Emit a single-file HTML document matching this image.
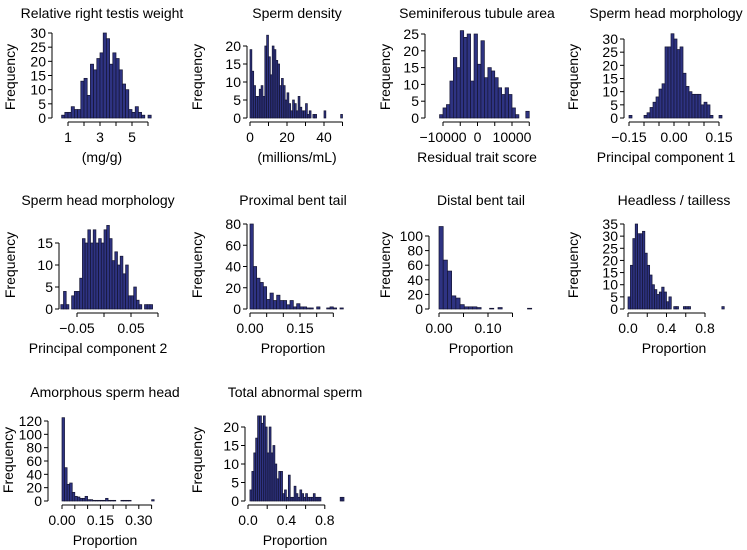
<!DOCTYPE html>
<html><head><meta charset="utf-8">
<style>
html,body{margin:0;padding:0;background:#fff;}
svg{display:block;font-family:"Liberation Sans",Arial,sans-serif;}
</style></head>
<body>
<svg id="fig" width="747" height="550" viewBox="0 0 747 550" xmlns="http://www.w3.org/2000/svg"></svg>
<script>
// ---- data arrays ----
const counts1 = [1,2,2,4,3,3,13,14,8,19,17,21,23,30,28,19,23,21,17,12,10,3,2,4,2,1,0,1];
const counts2 = [19,13,9,6,6,8,9,6,20,23,17,12,20,19,16,15,9,11,9,5,7,4,2,5,4,2,6,3,2,2,4,1,2,0,1,1,0,0,0,0,2,0,0,0,0,0,0,0,0,1];
const counts3 = [1,3,4,11,18,15,26,24,25,11,25,16,23,12,15,14,12,9,7,9,7,3,1,0,0,2];
const counts4 = [1,0,0,0,0,1,2,4,6,8,11,13,27,27,32,30,26,27,17,12,10,9,9,9,5,6,5,1,0,0,1];
const counts5 = [1,4,1,0,3,4,4,7,16,15,18,15,18,15,16,15,18,19,16,11,13,10,12,8,10,3,3,5,2,1,0,1,1,1];
const counts6 = [80,40,29,25,21,9,15,8,13,8,8,4,8,2,5,2,2,1,1,0,2,0,0,1,2,1,0,1];
const counts7 = [113,67,52,18,15,6,3,3,3,2,0,0,1,0,2,0,0,0,0,0,0,1];
const counts8 = [5,18,29,35,31,31,32,23,18,14,10,8,6,7,9,7,3,5,0,1,1,0,0,1,1,1,0,0,0,0,0,0,0,0,0,0,0,0,0,1];
const counts9 = [125,50,25,27,13,7,6,4,4,7,2,2,1,1,1,1,1,4,1,1,1,0,0,1,1,1,1,0,0,0,0,0,0,0,0,2];
const counts10 = [3,8,13,17,23,23,21,23,20,13,20,13,15,10,6,8,8,2,3,1,7,1,1,4,2,1,3,2,1,2,1,1,1,2,1,1,1,0,0,0,0,0,0,0,0,0,0,1,1];
const binStarts = [0.6,0,-11000,-0.15,-0.08,0,0,0,0,0.02];
const binWidths = [0.2,1,1000,0.01,0.005,0.01,0.0086,0.025,0.01,0.02];
const titles = ["Relative right testis weight","Sperm density","Seminiferous tubule area","Sperm head morphology","Sperm head morphology","Proximal bent tail","Distal bent tail","Headless / tailless","Amorphous sperm head","Total abnormal sperm"];
const xLabels = ["(mg/g)","(millions/mL)","Residual trait score","Principal component 1","Principal component 2","Proportion","Proportion","Proportion","Proportion","Proportion"];
const xTicks = [[1,2,3,4,5,6],[0,10,20,30,40,50],[-10000,-5000,0,5000,10000,15000],[-0.15,-0.1,-0.05,0,0.05,0.1,0.15],[-0.05,0,0.05,0.1],[0,0.05,0.1,0.15,0.2,0.25],[0,0.05,0.1,0.15],[0,0.2,0.4,0.6,0.8],[0,0.05,0.1,0.15,0.2,0.25,0.3,0.35],[0,0.2,0.4,0.6,0.8]];
const xTickLabels = [["1","","3","","5",""],["0","","20","","40",""],["\u221210000","","0","","10000",""],["\u22120.15","","","0.00","","","0.15"],["\u22120.05","","0.05",""],["0.00","","","0.15","",""],["0.00","","0.10",""],["0.0","","0.4","","0.8"],["0.00","","","0.15","","","0.30",""],["0.0","","0.4","","0.8"]];
const yTicks = [[0,5,10,15,20,25,30],[0,5,10,15,20],[0,5,10,15,20,25],[0,5,10,15,20,25,30],[0,5,10,15],[0,20,40,60,80],[0,20,40,60,80,100],[0,5,10,15,20,25,30,35],[0,20,40,60,80,100,120],[0,5,10,15,20]];
const allCounts = [counts1,counts2,counts3,counts4,counts5,counts6,counts7,counts8,counts9,counts10];

// ---- layout (pixel geometry) ----
const layout = [
 {x0:68, v0:1, k:16, zy:118, cy:85/30, ax:52, tc:102, fx:10},
 {x0:250, v0:0, k:1.85, zy:118, cy:72/20, ax:247, tc:297, fx:197},
 {x0:477.5, v0:0, k:0.00345, zy:118, cy:84/25, ax:425, tc:477, fx:385},
 {x0:674, v0:0, k:300, zy:118, cy:79/30, ax:624, tc:666, fx:573},
 {x0:104, v0:0, k:540, zy:309, cy:66/15, ax:59, tc:98, fx:10},
 {x0:250, v0:0, k:333.3, zy:309, cy:85/80, ax:247, tc:293, fx:197},
 {x0:439, v0:0, k:490, zy:309, cy:73/100, ax:429, tc:481, fx:385},
 {x0:628, v0:0, k:96.25, zy:309, cy:85/35, ax:624, tc:674, fx:573},
 {x0:62, v0:0, k:256, zy:501, cy:80/120, ax:48, tc:105, fx:8},
 {x0:248, v0:0, k:96, zy:501, cy:74/20, ax:245, tc:295, fx:197}
];
const titleY = {118:18, 309:205, 501:397};
const freqY = {118:77, 309:265, 501:460};
const FS = 14;

const NS = "http://www.w3.org/2000/svg";
const svg = document.getElementById('fig');
function mk(tag, attrs, parent){
  const e = document.createElementNS(NS, tag);
  for (const a in attrs) e.setAttribute(a, attrs[a]);
  (parent||svg).appendChild(e);
  return e;
}

layout.forEach((L, i) => {
  const g = mk('g', {});
  
  
  const xs = v => L.x0 + (v - L.v0) * L.k;
  const ys = c => L.zy - c * L.cy;
  allCounts[i].forEach((c, j) => {
    if (c <= 0) return;
    const a = xs(binStarts[i] + j*binWidths[i]);
    const b = xs(binStarts[i] + (j+1)*binWidths[i]);
    const r = mk('rect', {x:a, y:ys(c), width:Math.max(b-a,0.5), height:L.zy-ys(c), fill:'#2e3382', stroke:'#141432', 'stroke-width':0.7}, g);
    
    
  });
  const yt = yTicks[i];
  const ya = mk('line', {x1:L.ax, x2:L.ax, y1:ys(yt[0]), y2:ys(yt[yt.length-1]), stroke:'#000', 'stroke-width':1}, g);
  
  
  yt.forEach(t => {
    mk('line', {x1:L.ax-4, x2:L.ax, y1:ys(t), y2:ys(t), stroke:'#000', 'stroke-width':1}, g);
    const tx = mk('text', {x:L.ax-6, y:ys(t)+5, 'text-anchor':'end', 'font-size':FS, fill:'#000'}, g);
    tx.textContent = String(t);
    
    
  });
  const xt = xTicks[i];
  const axY = L.zy + 4;
  const xa = mk('line', {x1:xs(xt[0]), x2:xs(xt[xt.length-1]), y1:axY, y2:axY, stroke:'#000', 'stroke-width':1}, g);
  
  
  xt.forEach((t, j) => {
    mk('line', {x1:xs(t), x2:xs(t), y1:axY, y2:axY+4, stroke:'#000', 'stroke-width':1}, g);
    const lab = xTickLabels[i][j];
    if (lab) {
      const tx = mk('text', {x:xs(t), y:L.zy+24, 'text-anchor':'middle', 'font-size':FS, fill:'#000'}, g);
      tx.textContent = lab;
      
      
    }
  });
  const ti = mk('text', {x:L.tc, y:titleY[L.zy], 'text-anchor':'middle', 'font-size':FS, fill:'#000'}, g);
  ti.textContent = titles[i];
  
  
  const xl = mk('text', {x:L.tc, y:L.zy+44, 'text-anchor':'middle', 'font-size':FS, fill:'#000'}, g);
  xl.textContent = xLabels[i];
  
  
  const fy = freqY[L.zy];
  const yl = mk('text', {x:L.fx, y:fy, 'text-anchor':'middle', 'font-size':FS, fill:'#000', transform:'rotate(-90 '+L.fx+' '+fy+')', 'dominant-baseline':'central'}, g);
  yl.textContent = 'Frequency';
  
  
});
</script>
</body></html>
